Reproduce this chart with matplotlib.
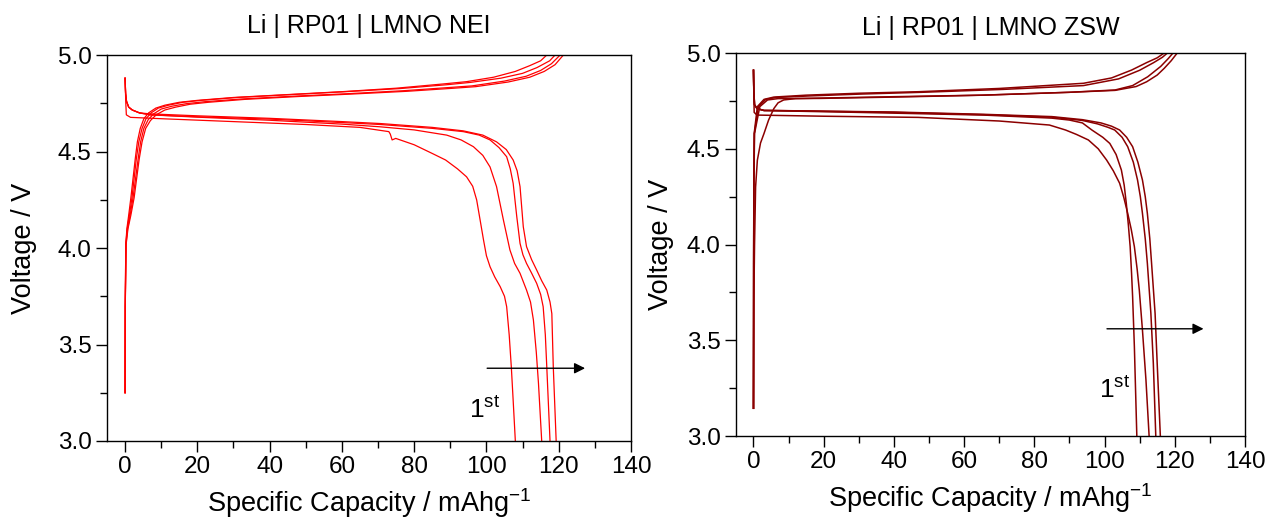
import matplotlib
matplotlib.use('Agg')
import matplotlib.pyplot as plt
from matplotlib.ticker import MultipleLocator, FormatStrFormatter

plt.rcParams['font.family'] = ['Liberation Sans', 'DejaVu Sans']
plt.rcParams['mathtext.fontset'] = 'custom'
plt.rcParams['mathtext.rm'] = 'Liberation Sans'
plt.rcParams['mathtext.it'] = 'Liberation Sans:italic'

# ---------------- NEI (left) ----------------
# charge curves
nei_ch1_x = [0, 0.05, 0.2, 0.5, 1.0, 1.6, 2.2, 2.8, 3.4, 4.2, 5.2, 6.5, 8.5, 11, 15, 20, 30, 45, 60, 75, 88, 94.5, 102, 108, 112, 115, 116.7]
nei_ch1_v = [3.25, 3.70, 4.02, 4.10, 4.17, 4.26, 4.36, 4.46, 4.55, 4.62, 4.67, 4.70, 4.725, 4.74, 4.755, 4.765, 4.78, 4.795, 4.81, 4.828, 4.85, 4.862, 4.885, 4.915, 4.945, 4.97, 5.0]
nei_ch2_x = [0, 0.05, 0.2, 0.6, 1.2, 1.9, 2.5, 3.1, 3.8, 4.7, 5.8, 7.2, 9.2, 12, 16, 21, 31, 46, 61, 76, 89, 95.5, 104, 110, 114, 117.5, 119.0]
nei_ch2_v = [3.25, 3.70, 4.02, 4.10, 4.17, 4.26, 4.36, 4.46, 4.55, 4.62, 4.67, 4.70, 4.725, 4.74, 4.755, 4.765, 4.78, 4.795, 4.81, 4.826, 4.846, 4.858, 4.88, 4.905, 4.935, 4.97, 5.0]
nei_ch3_x = [0, 0.05, 0.25, 0.7, 1.4, 2.2, 2.9, 3.6, 4.3, 5.2, 6.4, 7.9, 10, 13, 17, 22, 32, 47, 62, 77, 90, 96, 105, 111, 115, 118, 120.4]
nei_ch3_v = [3.25, 3.70, 4.02, 4.10, 4.17, 4.26, 4.36, 4.46, 4.55, 4.62, 4.665, 4.695, 4.72, 4.735, 4.748, 4.758, 4.772, 4.787, 4.8, 4.815, 4.832, 4.84, 4.865, 4.89, 4.92, 4.955, 5.0]
nei_ch4_x = [0, 0.05, 0.3, 0.8, 1.6, 2.5, 3.2, 3.9, 4.7, 5.7, 7.0, 8.6, 11, 14, 18, 23, 33, 48, 63, 78, 91, 97, 106, 112, 116, 119, 121.3]
nei_ch4_v = [3.25, 3.70, 4.02, 4.10, 4.17, 4.26, 4.36, 4.46, 4.55, 4.62, 4.66, 4.69, 4.715, 4.73, 4.745, 4.755, 4.77, 4.785, 4.798, 4.812, 4.828, 4.836, 4.86, 4.885, 4.915, 4.95, 5.0]

# discharge curves
nei_dc1_x = [0, 0.2, 0.35, 1.5, 10, 30, 50, 65, 73.0, 73.4, 73.9, 74.9, 80, 85, 88.7, 92, 94.5, 96.2, 97.3, 98.3, 99.2, 100.0, 101.0, 102.3, 103.8, 105.0, 105.6, 106.3, 106.9, 107.4, 108.0]
nei_dc1_v = [4.88, 4.75, 4.69, 4.677, 4.67, 4.655, 4.64, 4.625, 4.603, 4.59, 4.56, 4.568, 4.535, 4.49, 4.456, 4.41, 4.369, 4.32, 4.249, 4.14, 4.041, 3.96, 3.903, 3.85, 3.80, 3.75, 3.696, 3.55, 3.38, 3.21, 3.0]
nei_dc2_x = [0, 0.15, 0.4, 1, 2, 4, 7, 20, 40, 60, 70.6, 80, 89.0, 93, 96.4, 99, 101.0, 102.8, 104.7, 106.5, 107.8, 109.3, 111.1, 112.2, 113.0, 113.8, 114.4, 115.3]
nei_dc2_v = [4.88, 4.80, 4.76, 4.73, 4.715, 4.70, 4.69, 4.678, 4.662, 4.642, 4.628, 4.612, 4.585, 4.56, 4.525, 4.48, 4.42, 4.318, 4.145, 3.99, 3.92, 3.869, 3.782, 3.72, 3.627, 3.46, 3.30, 3.0]
nei_dc3_x = [0, 0.15, 0.4, 1, 2, 4, 7, 20, 40, 60, 70.6, 85, 93.6, 98, 101.0, 103.5, 105.6, 106.6, 107.4, 108.4, 109.3, 110.1, 111.1, 112.5, 113.9, 115.0, 115.7, 116.3, 116.7, 117.6]
nei_dc3_v = [4.88, 4.80, 4.76, 4.73, 4.715, 4.70, 4.69, 4.68, 4.668, 4.65, 4.64, 4.62, 4.603, 4.585, 4.56, 4.52, 4.473, 4.41, 4.335, 4.162, 4.024, 3.965, 3.92, 3.87, 3.817, 3.76, 3.696, 3.55, 3.385, 3.0]
nei_dc4_x = [0, 0.15, 0.4, 1, 2, 4, 7, 20, 40, 60, 70.6, 85, 93.6, 99, 102.8, 105.5, 107.4, 108.5, 109.3, 110.2, 111.1, 112.5, 113.9, 115.3, 116.7, 117.6, 118.1, 118.5, 119.3]
nei_dc4_v = [4.88, 4.80, 4.76, 4.73, 4.715, 4.70, 4.695, 4.685, 4.672, 4.655, 4.645, 4.625, 4.607, 4.585, 4.55, 4.51, 4.456, 4.40, 4.318, 4.11, 4.007, 3.94, 3.886, 3.83, 3.782, 3.72, 3.66, 3.385, 3.0]

# ---------------- ZSW (right) ----------------
zsw_ch1_x = [0, 0.05, 0.1, 0.2, 1.1, 3.0, 5.8, 15, 30, 47, 70, 94, 102, 107.7, 112, 115, 117.0]
zsw_ch1_v = [3.145, 3.9, 4.32, 4.58, 4.72, 4.758, 4.77, 4.78, 4.79, 4.798, 4.815, 4.842, 4.87, 4.911, 4.95, 4.975, 5.0]
zsw_ch2_x = [0, 0.05, 0.1, 0.25, 1.4, 3.5, 6.5, 16, 31, 48, 71, 94, 104, 110, 114, 116.5, 117.9]
zsw_ch2_v = [3.145, 3.9, 4.32, 4.58, 4.72, 4.758, 4.768, 4.776, 4.786, 4.795, 4.81, 4.83, 4.865, 4.91, 4.95, 4.978, 5.0]
zsw_ch3_x = [0, 0.05, 0.12, 0.3, 1.8, 4.0, 7.0, 18.8, 40, 65.6, 90, 103, 108, 112.3, 116, 118.2, 119.5]
zsw_ch3_v = [3.145, 3.9, 4.32, 4.58, 4.72, 4.755, 4.762, 4.763, 4.77, 4.78, 4.795, 4.807, 4.83, 4.876, 4.93, 4.972, 5.0]
zsw_ch4_x = [0, 0.1, 0.3, 0.6, 1.1, 2.0, 3.0, 4.3, 5.8, 7.0, 8.6, 12, 20, 40, 65, 90, 103, 109, 112, 115, 117, 119, 120.7]
zsw_ch4_v = [3.145, 3.7, 4.0, 4.3, 4.44, 4.53, 4.58, 4.65, 4.71, 4.74, 4.755, 4.762, 4.765, 4.772, 4.78, 4.795, 4.805, 4.825, 4.85, 4.885, 4.92, 4.96, 5.0]

zsw_dc1_x = [0, 0.1, 0.3, 1, 3, 5, 30, 65.6, 85, 90, 93.7, 96.4, 99.5, 101.5, 103.3, 104.8, 105.6, 106.2, 106.8, 107.3, 107.7, 108.0, 108.5, 109.2]
zsw_dc1_v = [4.91, 4.80, 4.73, 4.71, 4.70, 4.699, 4.69, 4.676, 4.66, 4.65, 4.635, 4.598, 4.56, 4.528, 4.47, 4.389, 4.31, 4.215, 4.10, 3.989, 3.85, 3.728, 3.467, 3.0]
zsw_dc2_x = [0, 0.1, 0.2, 1, 20, 46.9, 70, 84.3, 88.9, 92.0, 95.4, 98.2, 100.6, 102.5, 104.3, 105.5, 106.6, 107.6, 108.5, 109.3, 109.9, 110.8, 111.8, 112.7]
zsw_dc2_v = [4.91, 4.78, 4.69, 4.676, 4.67, 4.664, 4.645, 4.624, 4.598, 4.575, 4.546, 4.50, 4.441, 4.385, 4.32, 4.245, 4.163, 4.08, 3.989, 3.87, 3.763, 3.554, 3.293, 3.0]
zsw_dc3_x = [0, 0.1, 0.3, 1, 3, 5, 40, 65.6, 85, 93.7, 98, 101.0, 102.9, 105.0, 106.6, 108.2, 109.4, 110.2, 110.8, 111.6, 112.2, 113.2, 113.9, 114.6]
zsw_dc3_v = [4.91, 4.80, 4.73, 4.71, 4.70, 4.70, 4.69, 4.678, 4.665, 4.648, 4.63, 4.612, 4.598, 4.56, 4.511, 4.43, 4.337, 4.25, 4.163, 4.03, 3.902, 3.641, 3.38, 3.0]
zsw_dc4_x = [0, 0.1, 0.3, 1, 3, 5, 40, 65.6, 85, 93.7, 99, 102.0, 104.3, 106.3, 108.0, 109.5, 110.8, 111.6, 112.2, 112.9, 113.4, 114.4, 115.0, 115.9]
zsw_dc4_v = [4.91, 4.80, 4.73, 4.71, 4.70, 4.70, 4.692, 4.68, 4.668, 4.652, 4.635, 4.618, 4.598, 4.56, 4.511, 4.43, 4.337, 4.25, 4.163, 4.03, 3.902, 3.641, 3.38, 3.0]

nei_curves = [(nei_ch1_x, nei_ch1_v), (nei_ch2_x, nei_ch2_v), (nei_ch3_x, nei_ch3_v), (nei_ch4_x, nei_ch4_v),
              (nei_dc1_x, nei_dc1_v), (nei_dc2_x, nei_dc2_v), (nei_dc3_x, nei_dc3_v), (nei_dc4_x, nei_dc4_v)]
zsw_curves = [(zsw_ch1_x, zsw_ch1_v), (zsw_ch2_x, zsw_ch2_v), (zsw_ch3_x, zsw_ch3_v), (zsw_ch4_x, zsw_ch4_v),
              (zsw_dc1_x, zsw_dc1_v), (zsw_dc2_x, zsw_dc2_v), (zsw_dc3_x, zsw_dc3_v), (zsw_dc4_x, zsw_dc4_v)]

# arrow + label positions (data coords)
nei_arrow = ((100.2, 3.377), (127.3, 3.377))
nei_label = (95.3, 3.12)
zsw_arrow = ((100.7, 3.56), (128.2, 3.56))
zsw_label = (98.3, 3.20)


def style(ax, title, tpad, ypad):
    ax.set_xlim(-5, 140)
    ax.set_ylim(3.0, 5.0)
    ax.xaxis.set_major_locator(MultipleLocator(20))
    ax.xaxis.set_minor_locator(MultipleLocator(10))
    ax.yaxis.set_major_locator(MultipleLocator(0.5))
    ax.yaxis.set_minor_locator(MultipleLocator(0.25))
    ax.yaxis.set_major_formatter(FormatStrFormatter('%.1f'))
    ax.tick_params(which='both', direction='out', top=False, right=False, width=1, labelsize=17.5, pad=3)
    ax.tick_params(which='major', length=8)
    ax.tick_params(which='minor', length=5)
    for s in ax.spines.values():
        s.set_linewidth(1.0)
    ax.set_xlabel('Specific Capacity / mAhg$^{-1}$', fontsize=19.5, labelpad=6)
    ax.set_ylabel('Voltage / V', fontsize=19.5, labelpad=ypad)
    ax.set_title(title, fontsize=18, pad=tpad)


fig = plt.figure(figsize=(12.77, 5.23), dpi=100)
ax1 = fig.add_axes([0.0838, 0.1568, 0.4103, 0.7380])
ax2 = fig.add_axes([0.5763, 0.1663, 0.3986, 0.7323])

for x, v in nei_curves:
    ax1.plot(x, v, color='#ff0000', lw=0.9, solid_joinstyle='round')
for x, v in zsw_curves:
    ax2.plot(x, v, color='#8b0000', lw=1.1, solid_joinstyle='round')

for ax, arr, lab in [(ax1, nei_arrow, nei_label), (ax2, zsw_arrow, zsw_label)]:
    ax.annotate('', xy=arr[1], xytext=arr[0],
                arrowprops=dict(arrowstyle='-|>', color='black', lw=1, mutation_scale=16, shrinkA=0, shrinkB=0))
    ax.text(lab[0], lab[1], '1$^{\\mathrm{st}}$', fontsize=19, ha='left', va='baseline')

style(ax1, 'Li | RP01 | LMNO NEI', 16, 15)
style(ax2, 'Li | RP01 | LMNO ZSW', 13, 9)

fig.savefig('out.png', dpi=100)
